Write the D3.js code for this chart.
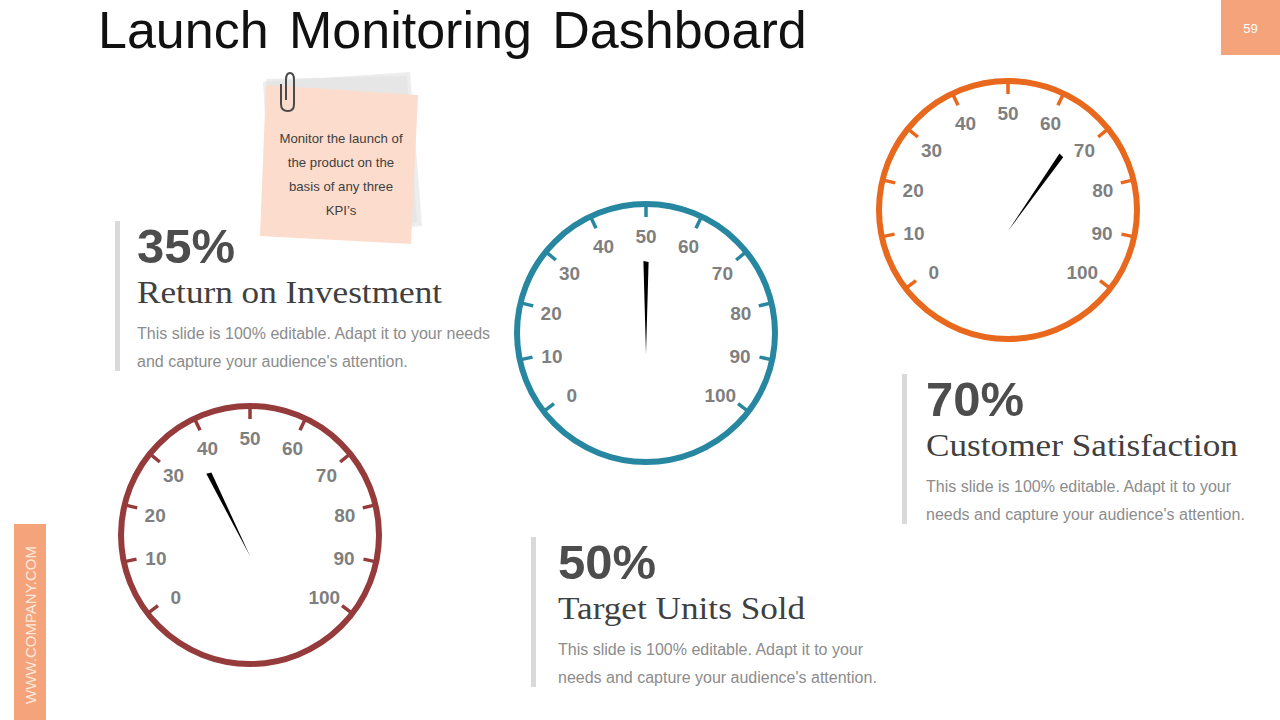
<!DOCTYPE html>
<html>
<head>
<meta charset="utf-8">
<script src="https://cdn.jsdelivr.net/npm/d3@7"></script>
<style>
  html, body { margin: 0; padding: 0; background: #ffffff; }
  svg { display: block; }
</style>
</head>
<body>
<svg id="chart" width="1280" height="720"></svg>
<script>
// ---- data ----
const kpiNames = ["Return on Investment", "Target Units Sold", "Customer Satisfaction"];
const kpiValues = [35, 50, 70];
const kpiLabels = ["35%", "50%", "70%"];
const gaugeColors = ["#963b3b", "#2887a0", "#e8691e"];
const tickValues = [0, 10, 20, 30, 40, 50, 60, 70, 80, 90, 100];
const bodyLines = ["This slide is 100% editable. Adapt it to your needs", "and capture your audience's attention."];
const bodyLinesNarrow = ["This slide is 100% editable. Adapt it to your", "needs and capture your audience's attention."];
const noteLines = ["Monitor the launch of", "the product on the", "basis of any three", "KPI\u2019s"];

// ---- layout ----
const svg = d3.select("#chart");
const gaugePos = [ {cx: 250, cy: 535}, {cx: 646, cy: 333}, {cx: 1008, cy: 210} ];
const blockPos = [ {x: 116, y: 221, tx: 137, body: bodyLines},
                   {x: 532, y: 537, tx: 558, body: bodyLinesNarrow},
                   {x: 903, y: 374, tx: 926, body: bodyLinesNarrow} ];
const R = 129;

const tickScale = d3.scaleLinear().domain([0, 100]).range([-127.5, 127.5]);
const labelScale = d3.scaleLinear().domain([0, 100]).range([-130, 130]);
const needleScale = d3.scaleLinear().domain([0, 100]).range([-88, 88]);
const rad = d => d * Math.PI / 180;
const SANS = "Liberation Sans, Arial, sans-serif";

// Title
svg.append("text").attr("x", 98).attr("y", 48)
  .attr("font-family", SANS).attr("font-size", 52)
  .attr("fill", "#111").attr("word-spacing", 6)
  .text("Launch Monitoring Dashboard");

// Page number box
svg.append("rect").attr("x", 1221).attr("y", 0).attr("width", 59).attr("height", 55).attr("fill", "#f4a37a");
svg.append("text").attr("x", 1250.5).attr("y", 33).attr("text-anchor", "middle")
  .attr("font-family", SANS).attr("font-size", 13).attr("fill", "#fff").text("59");

// Side bar
svg.append("rect").attr("x", 14).attr("y", 524).attr("width", 32).attr("height", 196).attr("fill", "#f4a37a");
svg.append("text").attr("transform", "translate(36,625) rotate(-90)").attr("text-anchor", "middle")
  .attr("font-family", SANS).attr("font-size", 15).attr("fill", "#fde9dc")
  .text("WWW.COMPANY.COM");

// Sticky note
const note = svg.append("g");
note.append("polygon").attr("points", "263,82 410,72 422,226 272,236").attr("fill", "#ededed");
note.append("polygon").attr("points", "266,79 407,76 417,222 270,228").attr("fill", "#e2e2e2").attr("opacity", 0.7);
note.append("polygon").attr("points", "266,85 418,95 411,244 260,236").attr("fill", "#fcdccc");
note.append("path").attr("d", "M286,100 L286,80 Q286,73 290,73 Q294,73 294,80 L294,104 Q294,111 288,111 Q281,111 281,104 L281,84")
  .attr("fill", "none").attr("stroke", "#4a4a4a").attr("stroke-width", 2);
note.selectAll("text.note").data(noteLines).join("text").attr("class", "note")
  .attr("x", 341).attr("y", (d, i) => 143 + i * 24).attr("text-anchor", "middle")
  .attr("font-family", SANS).attr("font-size", 13.2).attr("fill", "#404040")
  .text(d => d);

// Gauges
kpiValues.forEach((v, i) => {
  const g = svg.append("g").attr("transform", `translate(${gaugePos[i].cx},${gaugePos[i].cy})`);
  const col = gaugeColors[i];
  g.append("circle").attr("r", R).attr("fill", "none").attr("stroke", col).attr("stroke-width", 6);
  g.selectAll("line.tick").data(tickValues).join("line").attr("class", "tick")
    .attr("x1", d => Math.sin(rad(tickScale(d))) * (R - 1))
    .attr("y1", d => -Math.cos(rad(tickScale(d))) * (R - 1))
    .attr("x2", d => Math.sin(rad(tickScale(d))) * (R - 13))
    .attr("y2", d => -Math.cos(rad(tickScale(d))) * (R - 13))
    .attr("stroke", col).attr("stroke-width", 3.5);
  g.selectAll("text.lbl").data(tickValues).join("text").attr("class", "lbl")
    .attr("x", d => Math.sin(rad(labelScale(d))) * 97)
    .attr("y", d => -Math.cos(rad(labelScale(d))) * 97 + 7)
    .attr("text-anchor", "middle")
    .attr("font-family", SANS).attr("font-weight", "bold")
    .attr("font-size", 19).attr("fill", "#7f7f7f")
    .text(d => d);
  const a = needleScale(v);
  g.append("polygon")
    .attr("transform", `translate(0,21) rotate(${a})`)
    .attr("points", "0,0 -2.6,-93 2.6,-92")
    .attr("fill", "#000");
});

// Text blocks
kpiValues.forEach((v, i) => {
  const b = blockPos[i];
  const g = svg.append("g");
  g.append("rect").attr("x", b.x - 1).attr("y", b.y).attr("width", 5).attr("height", 150).attr("fill", "#d9d9d9");
  g.append("text").attr("x", b.tx).attr("y", b.y + 42)
    .attr("font-family", SANS).attr("font-weight", "bold")
    .attr("font-size", 49).attr("fill", "#4d4d4d").text(kpiLabels[i]);
  const h = g.append("text").attr("x", b.tx).attr("y", b.y + 82)
    .attr("font-family", "Liberation Serif, Georgia, serif")
    .attr("font-size", 32).attr("fill", "#404040").text(kpiNames[i]);
  const w = h.node().getComputedTextLength();
  h.attr("textLength", w * 1.1).attr("lengthAdjust", "spacingAndGlyphs");
  g.selectAll("text.body").data(b.body).join("text").attr("class", "body")
    .attr("x", b.tx).attr("y", (d, j) => b.y + 118 + j * 28)
    .attr("font-family", SANS)
    .attr("font-size", 16).attr("fill", "#8c8c8c").text(d => d);
});
</script>
</body>
</html>
